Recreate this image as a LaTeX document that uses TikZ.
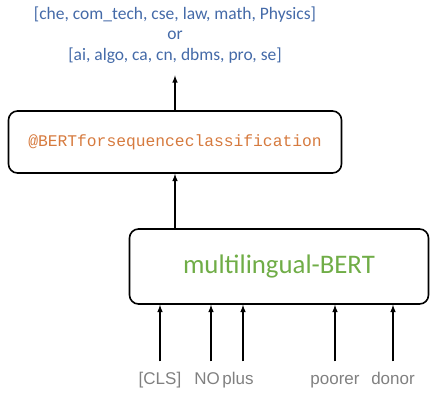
\documentclass[tikz,border=0pt]{standalone}
\usepackage{fontspec}
\setmainfont{Carlito}
\newfontfamily\tokfont{Liberation Sans}
\newfontfamily\codefont{Liberation Mono}
\definecolor{labblue}{RGB}{68,106,168}
\definecolor{codeorange}{RGB}{214,122,62}
\definecolor{bertgreen}{RGB}{112,173,71}
\definecolor{tokgray}{RGB}{128,128,128}
\tikzset{
    modelbox/.style={draw, line width=1.6pt, rounded corners=9pt},
    token/.style={text=tokgray, font=\tokfont\fontsize{17}{17}\selectfont, inner sep=0pt,
        text height=12pt, text depth=4pt},
}
\begin{document}
\begin{tikzpicture}[x=1pt,y=-1pt, line width=1.5pt]
    \useasboundingbox (0,0) rectangle (430,394);
    \node[align=center, text=labblue, font=\fontsize{17.5}{20.5}\selectfont] (out) at (175,35)
    {{[che, com\_tech, cse, law, math, Physics]}\\or\\{}[ai, algo, ca, cn, dbms, pro, se]};
    \node[modelbox, minimum width=333pt, minimum height=62pt, text=codeorange,
    font=\codefont\fontsize{16.3}{16.3}\selectfont] (clf) at (175,142) {@BERTforsequenceclassification};
    \node[modelbox, minimum width=299pt, minimum height=75pt, text=bertgreen,
    font=\fontsize{26.8}{26.8}\selectfont] (bert) at (279,266.5) {multilingual-BERT};

    \node[token] (cls) at (160,380) {[CLS]};
    \node[token] (no) at (207,380) {NO};
    \node[token] (plus) at (238,380) {plus};
    \node[token] (poorer) at (335,380) {poorer};
    \node[token] (donor) at (393,380) {donor};

    \draw[->, >=latex] (clf.north) -- ([yshift=-8pt]out.south);
    \draw[->, >=latex] (bert.north -| clf.south) -- (clf.south);

    \draw[->, >=latex] ([yshift=10pt]cls.north) -- (cls.north |- bert.south);
    \draw[->, >=latex] ([xshift=4pt,yshift=10pt]no.north) -- ([xshift=4pt]no.north |- bert.south);
    \draw[->, >=latex] ([xshift=5pt,yshift=10pt]plus.north) -- ([xshift=5pt]plus.north |- bert.south);
    \draw[->, >=latex] ([yshift=10pt]poorer.north) -- (poorer.north |- bert.south);
    \draw[->, >=latex] ([yshift=10pt]donor.north) -- (donor.north |- bert.south);
\end{tikzpicture}
\end{document}
